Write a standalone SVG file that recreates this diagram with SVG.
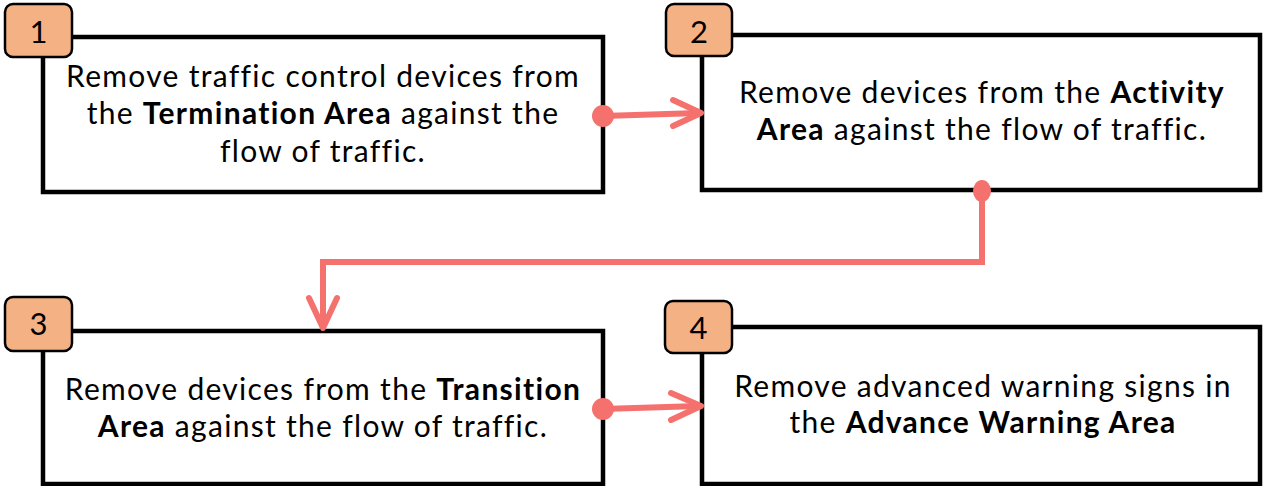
<svg xmlns="http://www.w3.org/2000/svg" width="1263" height="486" viewBox="0 0 1263 486">
<style>
.box{fill:#fff;stroke:#000;stroke-width:4.5}
.badge{fill:#F4B183;stroke:#000;stroke-width:2.5}
.num{font-family:Lato,"Liberation Sans",sans-serif;font-size:31px;fill:#000;text-anchor:middle}
.t{font-family:Lato,"Liberation Sans",sans-serif;font-size:30px;letter-spacing:1.3px;fill:#000;text-anchor:middle}
.b{font-weight:700}
.conn{fill:none;stroke:#F4716E;stroke-width:6;stroke-linecap:round;stroke-linejoin:miter}
.head{fill:none;stroke:#F4716E;stroke-width:6;stroke-linecap:round;stroke-linejoin:round}
.dot{fill:#F4716E}
</style>
<rect width="1263" height="486" fill="#fff"/>
<g id="node1">
<rect class="box" x="43" y="37" width="560" height="155"/>
<rect class="badge" x="5" y="4" width="67" height="53" rx="8"/>
<text class="num" x="38.5" y="43">1</text>
<text class="t" x="323" y="87">Remove traffic control devices from</text>
<text class="t" x="323" y="124">the <tspan class="b">Termination Area</tspan> against the</text>
<text class="t" x="323" y="162">flow of traffic.</text>
</g>
<g id="node2">
<rect class="box" x="702" y="35" width="558" height="155"/>
<rect class="badge" x="666" y="4" width="66" height="52" rx="8"/>
<text class="num" x="699" y="43">2</text>
<text class="t" x="982" y="103">Remove devices from the <tspan class="b">Activity</tspan></text>
<text class="t" x="982" y="140"><tspan class="b">Area</tspan> against the flow of traffic.</text>
</g>
<g id="node3">
<rect class="box" x="43" y="331" width="560" height="153"/>
<rect class="badge" x="5" y="297" width="67" height="54" rx="8"/>
<text class="num" x="38.5" y="335">3</text>
<text class="t" x="323" y="400">Remove devices from the <tspan class="b">Transition</tspan></text>
<text class="t" x="323" y="437"><tspan class="b">Area</tspan> against the flow of traffic.</text>
</g>
<g id="node4">
<rect class="box" x="702" y="327" width="558" height="157"/>
<rect class="badge" x="665" y="301" width="67" height="52" rx="8"/>
<text class="num" x="698.5" y="339">4</text>
<text class="t" x="983" y="397">Remove advanced warning signs in</text>
<text class="t" x="983" y="433">the <tspan class="b">Advance Warning Area</tspan></text>
</g>
<g id="connectors">
<line class="conn" x1="603" y1="116" x2="699" y2="113"/>
<polyline class="head" points="673,100 701,113 673,126"/>
<circle class="dot" cx="603" cy="116" r="11"/>
<polyline class="conn" points="982,191 982,262 323,262 323,326"/>
<polyline class="head" points="309,298 323,328 337,298"/>
<ellipse class="dot" cx="982" cy="191" rx="9" ry="11"/>
<line class="conn" x1="603" y1="409" x2="699" y2="406"/>
<polyline class="head" points="671,393 701,406 671,420"/>
<circle class="dot" cx="603" cy="409" r="11"/>
</g>
</svg>
